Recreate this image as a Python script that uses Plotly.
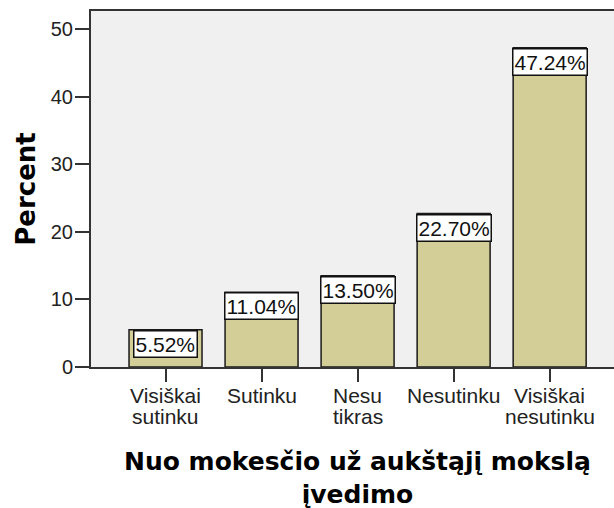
import plotly.graph_objects as go

categories = ["Visiškai<br>sutinku", "Sutinku", "Nesu<br>tikras", "Nesutinku", "Visiškai<br>nesutinku"]
percents = [5.52, 11.04, 13.50, 22.70, 47.24]
y_ticks = [0, 10, 20, 30, 40, 50]
x_title = "Nuo mokesčio už aukštąjį mokslą<br>įvedimo"

x_idx = list(range(len(categories)))

fig = go.Figure()
fig.add_trace(go.Bar(
    x=x_idx, y=percents, width=0.76,
    marker=dict(color="#d3ce97", line=dict(color="#1a1a1a", width=1.5)),
    hoverinfo="skip",
))

# value label boxes at bar tops
for i, v in zip(x_idx, percents):
    fig.add_annotation(
        x=i, y=v, xref="x", yref="y", yanchor="top", xanchor="center",
        text=f"{v:.2f}%", showarrow=False,
        font=dict(family="Liberation Sans, Arial", size=21, color="#111"),
        bgcolor="white", bordercolor="#111", borderwidth=1.5, borderpad=1,
    )

# category labels (tight line spacing, one annotation per line)
line_y = [-0.0787, -0.1404]
for i, cat in zip(x_idx, categories):
    for k, part in enumerate(cat.split("<br>")):
        fig.add_annotation(
            x=i, y=line_y[k], xref="x", yref="paper", xanchor="center", yanchor="middle",
            text=part, showarrow=False,
            font=dict(family="Liberation Sans, Arial", size=21, color="#222"),
        )

fig.add_annotation(
    x=0.51, y=-0.3118, xref="paper", yref="paper", xanchor="center", yanchor="middle",
    text=x_title, showarrow=False,
    font=dict(family="DejaVu Sans", size=25, color="#000", weight="bold"),
)

fig.update_layout(
    width=614, height=508,
    margin=dict(l=91, r=0, t=11, b=141),
    paper_bgcolor="white", plot_bgcolor="#f0f0f0",
    showlegend=False,
    xaxis=dict(
        automargin=False,
        tickmode="array", tickvals=x_idx, showticklabels=False,
        range=[-0.776, 4.67],
        showline=True, linecolor="#333", linewidth=2, mirror=True,
        ticks="outside", ticklen=13, tickwidth=2, tickcolor="#333",
        showgrid=False, zeroline=False,
    ),
    yaxis=dict(
        automargin=False,
        range=[0, 52.66],
        tickmode="array", tickvals=y_ticks,
        showline=True, linecolor="#333", linewidth=2,
        ticks="outside", ticklen=14, tickwidth=2, tickcolor="#333",
        ticklabelstandoff=-2,
        tickfont=dict(family="Liberation Sans, Arial", size=20, color="#222"),
        showgrid=False, zeroline=False,
        title=dict(text="Percent", standoff=8,
                   font=dict(family="DejaVu Sans", size=26, color="#000", weight="bold")),
    ),
)

fig.write_html(
    "out.html",
    config={"displayModeBar": False},
    post_script="document.body.style.margin='0';document.body.style.overflow='hidden';",
)
